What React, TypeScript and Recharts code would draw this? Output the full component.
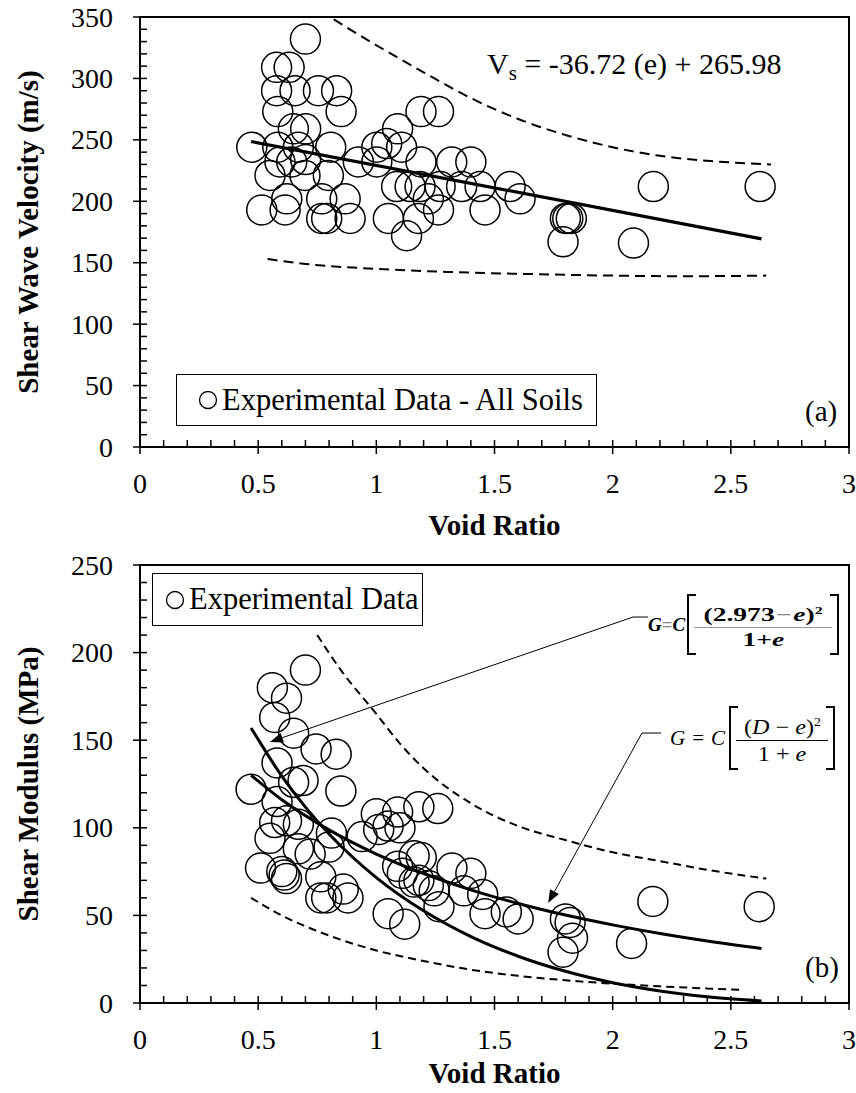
import React from 'react';
import {
    ComposedChart,
    XAxis,
    YAxis,
    Scatter,
    Line,
    ReferenceArea,
    ReferenceLine,
} from 'recharts';

const FONT = '"Liberation Serif", "Times New Roman", Times, serif';

// ---- (a) shear wave velocity vs void ratio ----
const vsData = [
    { e: 0.70, vs: 332 }, { e: 0.578, vs: 309 }, { e: 0.631, vs: 309 },
    { e: 0.578, vs: 290 }, { e: 0.656, vs: 290 }, { e: 0.755, vs: 290 }, { e: 0.832, vs: 290 },
    { e: 0.583, vs: 273 }, { e: 0.851, vs: 273 }, { e: 1.189, vs: 273 }, { e: 1.263, vs: 273 },
    { e: 0.649, vs: 259 }, { e: 0.701, vs: 259 }, { e: 1.09, vs: 259 },
    { e: 0.473, vs: 244 }, { e: 0.583, vs: 244 }, { e: 0.67, vs: 244 }, { e: 0.807, vs: 244 },
    { e: 1.002, vs: 244 }, { e: 1.044, vs: 247 }, { e: 1.107, vs: 244 },
    { e: 0.592, vs: 232 }, { e: 0.642, vs: 232 }, { e: 0.701, vs: 234 }, { e: 0.924, vs: 232 },
    { e: 1.002, vs: 232 }, { e: 1.189, vs: 232 }, { e: 1.319, vs: 232 }, { e: 1.40, vs: 232 },
    { e: 0.55, vs: 221 }, { e: 0.698, vs: 221 }, { e: 0.797, vs: 221 },
    { e: 1.086, vs: 212 }, { e: 1.143, vs: 212 }, { e: 1.185, vs: 212 }, { e: 1.27, vs: 212 },
    { e: 1.361, vs: 212 }, { e: 1.439, vs: 212 }, { e: 1.566, vs: 212 },
    { e: 0.621, vs: 202 }, { e: 0.769, vs: 202 }, { e: 0.868, vs: 202 }, { e: 1.22, vs: 202 },
    { e: 1.608, vs: 202 },
    { e: 0.515, vs: 193 }, { e: 0.614, vs: 193 }, { e: 1.263, vs: 193 }, { e: 1.46, vs: 193 },
    { e: 0.769, vs: 186 }, { e: 0.79, vs: 186 }, { e: 0.889, vs: 186 }, { e: 1.051, vs: 186 },
    { e: 1.178, vs: 186 }, { e: 1.128, vs: 172 },
    { e: 1.80, vs: 186 }, { e: 1.81, vs: 186 }, { e: 1.825, vs: 186 }, { e: 1.79, vs: 167 },
    { e: 2.088, vs: 166 }, { e: 2.172, vs: 212 }, { e: 2.624, vs: 212 },
];
const vsFit = [{ e: 0.47, vs: 248.7 }, { e: 2.63, vs: 169.4 }];
const vsUpper = [
    { e: 0.82, vs: 348 }, { e: 1.0, vs: 327 }, { e: 1.2, vs: 305 }, { e: 1.4, vs: 284 },
    { e: 1.6, vs: 267 }, { e: 1.8, vs: 254 }, { e: 2.0, vs: 244 }, { e: 2.2, vs: 237 },
    { e: 2.4, vs: 233 }, { e: 2.67, vs: 230 },
];
const vsLower = [
    { e: 0.54, vs: 153 }, { e: 0.7, vs: 149 }, { e: 1.0, vs: 145 }, { e: 1.3, vs: 142.5 },
    { e: 1.6, vs: 141 }, { e: 2.0, vs: 139.5 }, { e: 2.3, vs: 139 }, { e: 2.65, vs: 139.5 },
];

// ---- (b) shear modulus vs void ratio ----
const gData = [
    { e: 0.70, g: 190 }, { e: 0.56, g: 180 }, { e: 0.62, g: 174 }, { e: 0.57, g: 163 },
    { e: 0.65, g: 154 }, { e: 0.745, g: 145 }, { e: 0.83, g: 142 }, { e: 0.58, g: 137 },
    { e: 0.65, g: 126 }, { e: 0.69, g: 127 }, { e: 0.47, g: 122 }, { e: 0.85, g: 121 },
    { e: 0.58, g: 115 }, { e: 1.0, g: 108 }, { e: 1.09, g: 109 }, { e: 1.18, g: 112 },
    { e: 1.26, g: 111 }, { e: 0.57, g: 103 }, { e: 0.62, g: 104 }, { e: 0.67, g: 102 },
    { e: 1.01, g: 99 }, { e: 1.05, g: 101 }, { e: 1.10, g: 100 }, { e: 0.94, g: 95 },
    { e: 0.81, g: 97 }, { e: 0.55, g: 94 }, { e: 0.67, g: 88 }, { e: 0.72, g: 85 },
    { e: 0.80, g: 89 }, { e: 1.16, g: 84 }, { e: 1.19, g: 83 }, { e: 1.09, g: 78 },
    { e: 1.11, g: 74 }, { e: 1.32, g: 77 }, { e: 1.40, g: 74 }, { e: 0.51, g: 77 },
    { e: 0.60, g: 75 }, { e: 0.61, g: 73 }, { e: 0.62, g: 71 }, { e: 0.765, g: 72 },
    { e: 0.86, g: 65 }, { e: 0.88, g: 60 }, { e: 0.765, g: 60 }, { e: 0.79, g: 60 },
    { e: 1.16, g: 69 }, { e: 1.18, g: 70 }, { e: 1.22, g: 67 }, { e: 1.245, g: 64 },
    { e: 1.37, g: 64 }, { e: 1.45, g: 62 }, { e: 1.265, g: 55 }, { e: 1.05, g: 51 },
    { e: 1.12, g: 45 }, { e: 1.46, g: 51 }, { e: 1.55, g: 52 }, { e: 1.60, g: 48 },
    { e: 1.80, g: 48 }, { e: 1.82, g: 46 }, { e: 1.83, g: 37 }, { e: 1.79, g: 29 },
    { e: 2.08, g: 34 }, { e: 2.17, g: 58 }, { e: 2.62, g: 55 },
];
const gCurveFixed = [
    { e: 0.47, g: 157 }, { e: 0.6, g: 129.5 }, { e: 0.7, g: 111.8 }, { e: 0.8, g: 96.5 },
    { e: 0.9, g: 83.2 }, { e: 1.0, g: 71.6 }, { e: 1.2, g: 52.6 }, { e: 1.4, g: 37.9 },
    { e: 1.6, g: 26.7 }, { e: 1.8, g: 18.1 }, { e: 2.0, g: 11.6 }, { e: 2.2, g: 6.9 },
    { e: 2.4, g: 3.6 }, { e: 2.63, g: 1.2 },
];
const gCurveD = [
    { e: 0.47, g: 130 }, { e: 0.6, g: 116 }, { e: 0.8, g: 98.8 }, { e: 1.0, g: 85 },
    { e: 1.2, g: 73.9 }, { e: 1.4, g: 64.6 }, { e: 1.6, g: 56.8 }, { e: 1.8, g: 50.2 },
    { e: 2.0, g: 44.6 }, { e: 2.2, g: 39.7 }, { e: 2.4, g: 35.4 }, { e: 2.63, g: 31.1 },
];
const gUpper = [
    { e: 0.75, g: 210 }, { e: 0.85, g: 190 }, { e: 1.0, g: 165 }, { e: 1.1, g: 148 },
    { e: 1.2, g: 134 }, { e: 1.4, g: 114 }, { e: 1.6, g: 101 }, { e: 1.8, g: 93 },
    { e: 2.0, g: 86 }, { e: 2.2, g: 81 }, { e: 2.4, g: 76 }, { e: 2.65, g: 71 },
];
const gLower = [
    { e: 0.47, g: 60 }, { e: 0.6, g: 50 }, { e: 0.8, g: 38.5 }, { e: 1.0, g: 30 },
    { e: 1.2, g: 24 }, { e: 1.4, g: 19 }, { e: 1.6, g: 15.5 }, { e: 1.8, g: 13 },
    { e: 2.0, g: 11 }, { e: 2.2, g: 9.5 }, { e: 2.4, g: 8.3 }, { e: 2.55, g: 7.5 },
];

// ---- ticks ----
const xTicks = Array.from({ length: 31 }, (_, i) => i / 10);
const vsTicks = Array.from({ length: 36 }, (_, i) => i * 10);
const gTicks = Array.from({ length: 26 }, (_, i) => i * 10);

const TICK_FS = 28;
const TITLE_FS = 29;

const isMajor = (v: number, step: number) => Math.abs(v / step - Math.round(v / step)) < 1e-6;

const XTick = ({ x, y, payload }: any) => {
    const major = isMajor(payload.value, 0.5);
    return (
        <g>
            <line x1={x} x2={x} y1={y - 7} y2={major ? y + 7 : y} stroke="#000" strokeWidth={1.5} />
            {major && (
                <text x={x} y={y + 36} textAnchor="middle" dominantBaseline="central"
                    fontFamily={FONT} fontSize={TICK_FS} fill="#000">
                    {String(Math.round(payload.value * 10) / 10)}
                </text>
            )}
        </g>
    );
};

const YTick = ({ x, y, payload }: any) => {
    const major = isMajor(payload.value, 50);
    return (
        <g>
            <line x1={major ? x - 7 : x} x2={x + 7} y1={y} y2={y} stroke="#000" strokeWidth={1.5} />
            {major && (
                <text x={x - 27} y={y} textAnchor="end" dominantBaseline="central"
                    fontFamily={FONT} fontSize={TICK_FS} fill="#000">
                    {payload.value}
                </text>
            )}
        </g>
    );
};

const XTitle = ({ viewBox, gap }: any) => (
    <text x={viewBox.x + viewBox.width / 2} y={viewBox.y + gap} textAnchor="middle"
        dominantBaseline="central" fontFamily={FONT} fontSize={TITLE_FS} fontWeight="bold" fill="#000">
        Void Ratio
    </text>
);

const YTitle = ({ viewBox, text }: any) => {
    const cx = viewBox.x + 28;
    const cy = viewBox.y + viewBox.height / 2;
    return (
        <text x={cx} y={cy} transform={`rotate(-90 ${cx} ${cy})`} textAnchor="middle"
            dominantBaseline="central" fontFamily={FONT} fontSize={TITLE_FS} fontWeight="bold" fill="#000">
            {text}
        </text>
    );
};

const Ring = (props: any) => {
    const { cx, cy } = props;
    if (cx == null || cy == null) return null;
    return <circle cx={cx} cy={cy} r={15} fill="none" stroke="#000" strokeWidth={1.5} />;
};

const Arrow = (props: any) => {
    const { x1, y1, x2, y2 } = props;
    const ang = Math.atan2(y2 - y1, x2 - x1);
    const len = 13;
    const w = 5;
    const bx = x2 - len * Math.cos(ang);
    const by = y2 - len * Math.sin(ang);
    const px = -Math.sin(ang) * w;
    const py = Math.cos(ang) * w;
    return (
        <g>
            <line x1={x1} y1={y1} x2={bx} y2={by} stroke="#000" strokeWidth={1} />
            <polygon points={`${x2},${y2} ${bx + px},${by + py} ${bx - px},${by - py}`} fill="#000" />
        </g>
    );
};

const axisLine = { stroke: '#000', strokeWidth: 2 };

const boxStyle: React.CSSProperties = {
    position: 'absolute',
    border: '1.5px solid #000',
    background: '#fff',
    display: 'flex',
    alignItems: 'center',
    fontFamily: FONT,
    fontSize: 30.5,
    boxSizing: 'border-box',
    whiteSpace: 'nowrap',
};

const LegendRing = () => (
    <svg width={20} height={20} style={{ marginRight: 4 }}>
        <circle cx={10} cy={10} r={8.5} fill="none" stroke="#000" strokeWidth={1.3} />
    </svg>
);

const Corner = ({ side, pos }: { side: 'left' | 'right'; pos: 'top' | 'bottom' }) => (
    <div style={{ position: 'absolute', [side]: -2, [pos]: -2, width: 9, borderTop: '2px solid #000' } as any} />
);

// bracketed fraction, the fraction text is stretched sideways like the pasted equation image
const Formula = ({ left, top, lhs, num, den, boxWidth, height, fontSize, bold, stretch, barColor }: any) => (
    <div style={{
        position: 'absolute', left, top, height, display: 'flex', alignItems: 'center',
        fontFamily: FONT, fontSize, whiteSpace: 'nowrap', fontWeight: bold ? 'bold' : 'normal',
    }}>
        {lhs}
        <div style={{
            position: 'relative', width: boxWidth, height, boxSizing: 'border-box',
            borderLeft: '2px solid #000', borderRight: '2px solid #000',
            display: 'flex', flexDirection: 'column', justifyContent: 'center', alignItems: 'center',
        }}>
            <Corner side="left" pos="top" />
            <Corner side="left" pos="bottom" />
            <Corner side="right" pos="top" />
            <Corner side="right" pos="bottom" />
            <div style={{ lineHeight: `${fontSize + 3}px`, transform: `scaleX(${stretch})` }}>{num}</div>
            <div style={{ width: boxWidth - 14, borderTop: `1.5px solid ${barColor}`, margin: '1px 0' }} />
            <div style={{ lineHeight: `${fontSize + 3}px`, transform: `scaleX(${stretch})` }}>{den}</div>
        </div>
    </div>
);

const App: React.FC = () => {
    return (
        <div style={{ position: 'absolute', left: 0, top: 0, width: 856, height: 1093, background: '#fff' }}>
            <div style={{ position: 'absolute', left: 0, top: 0 }}>
                <ComposedChart width={856} height={545} margin={{ top: 17, right: 7, bottom: 0, left: 0 }}>
                    <XAxis type="number" dataKey="e" domain={[0, 3]} ticks={xTicks} interval={0}
                        tickSize={0} tickMargin={0} tickLine={false} tick={<XTick />} axisLine={axisLine}
                        height={98} allowDataOverflow label={<XTitle gap={78} />} />
                    <YAxis type="number" dataKey="vs" domain={[0, 350]} ticks={vsTicks} interval={0}
                        tickSize={0} tickMargin={0} tickLine={false} tick={<YTick />} axisLine={axisLine}
                        width={140} allowDataOverflow label={<YTitle text="Shear Wave Velocity (m/s)" />} />
                    <ReferenceArea x1={0} x2={3} y1={0} y2={350} fill="none" stroke="#000" strokeWidth={2} />
                    <Line data={vsUpper} dataKey="vs" type="monotone" stroke="#000" strokeWidth={2}
                        strokeDasharray="10 6" dot={false} isAnimationActive={false} />
                    <Line data={vsLower} dataKey="vs" type="monotone" stroke="#000" strokeWidth={2}
                        strokeDasharray="10 6" dot={false} isAnimationActive={false} />
                    <Scatter data={vsData} dataKey="vs" shape={<Ring />} isAnimationActive={false} />
                    <Line data={vsFit} dataKey="vs" type="linear" stroke="#000" strokeWidth={3.2}
                        dot={false} isAnimationActive={false} />
                </ComposedChart>
            </div>

            <div style={{ position: 'absolute', left: 0, top: 545 }}>
                <ComposedChart width={856} height={548} margin={{ top: 20, right: 7, bottom: 0, left: 0 }}>
                    <XAxis type="number" dataKey="e" domain={[0, 3]} ticks={xTicks} interval={0}
                        tickSize={0} tickMargin={0} tickLine={false} tick={<XTick />} axisLine={axisLine}
                        height={90} allowDataOverflow label={<XTitle gap={70} />} />
                    <YAxis type="number" dataKey="g" domain={[0, 250]} ticks={gTicks} interval={0}
                        tickSize={0} tickMargin={0} tickLine={false} tick={<YTick />} axisLine={axisLine}
                        width={140} allowDataOverflow label={<YTitle text="Shear Modulus (MPa)" />} />
                    <ReferenceArea x1={0} x2={3} y1={0} y2={250} fill="none" stroke="#000" strokeWidth={2} />
                    <Line data={gUpper} dataKey="g" type="monotone" stroke="#000" strokeWidth={2}
                        strokeDasharray="8 5" dot={false} isAnimationActive={false} />
                    <Line data={gLower} dataKey="g" type="monotone" stroke="#000" strokeWidth={2}
                        strokeDasharray="8 5" dot={false} isAnimationActive={false} />
                    <Scatter data={gData} dataKey="g" shape={<Ring />} isAnimationActive={false} />
                    <Line data={gCurveFixed} dataKey="g" type="monotone" stroke="#000" strokeWidth={3}
                        dot={false} isAnimationActive={false} />
                    <Line data={gCurveD} dataKey="g" type="monotone" stroke="#000" strokeWidth={3}
                        dot={false} isAnimationActive={false} />
                    <ReferenceLine segment={[{ x: 2.086, y: 220.3 }, { x: 2.15, y: 220.3 }]}
                        stroke="#000" strokeWidth={1} ifOverflow="visible" />
                    <ReferenceLine segment={[{ x: 2.086, y: 220.3 }, { x: 0.55, y: 149 }]}
                        ifOverflow="visible" shape={<Arrow />} />
                    <ReferenceLine segment={[{ x: 2.124, y: 154.1 }, { x: 2.205, y: 154.1 }]}
                        stroke="#000" strokeWidth={1} ifOverflow="visible" />
                    <ReferenceLine segment={[{ x: 2.124, y: 154.1 }, { x: 1.727, y: 57.1 }]}
                        ifOverflow="visible" shape={<Arrow />} />
                </ComposedChart>
            </div>

            {/* panel (a) annotations */}
            <div style={{ ...boxStyle, left: 176, top: 374, width: 421, height: 52, paddingLeft: 21 }}>
                <LegendRing />Experimental Data - All Soils
            </div>
            <div style={{ position: 'absolute', left: 487, top: 47, fontFamily: FONT, fontSize: 30, whiteSpace: 'nowrap' }}>
                V<sub style={{ fontSize: 21, verticalAlign: -6 }}>s</sub> = -36.72 (e) + 265.98
            </div>
            <div style={{ position: 'absolute', left: 805, top: 395, fontFamily: FONT, fontSize: 29 }}>(a)</div>

            {/* panel (b) annotations */}
            <div style={{ ...boxStyle, left: 152, top: 573, width: 271, height: 53, paddingLeft: 12 }}>
                <LegendRing />Experimental Data
            </div>
            <Formula left={648} top={596} height={57} boxWidth={152} fontSize={19} bold stretch={1.45} barColor="#999"
                lhs={<span style={{ marginRight: 2 }}><i>G</i><span style={{ color: '#888' }}>=</span><i>C</i></span>}
                num={<span>(2.973<span style={{ color: '#888', margin: '0 1px' }}>−</span><i>e</i>)<sup style={{ fontSize: 11 }}>2</sup></span>}
                den={<span>1+<i>e</i></span>} />
            <Formula left={670} top={708} height={60} boxWidth={106} fontSize={21} stretch={1.15} barColor="#000"
                lhs={<span style={{ marginRight: 4, fontStyle: 'italic' }}>G<span style={{ fontStyle: 'normal', margin: '0 7px' }}>=</span>C</span>}
                num={<span>(<i>D</i> − <i>e</i>)<sup style={{ fontSize: 12 }}>2</sup></span>}
                den={<span>1 + <i>e</i></span>} />
            <div style={{ position: 'absolute', left: 805, top: 951, fontFamily: FONT, fontSize: 29 }}>(b)</div>
        </div>
    );
};

export default App;
